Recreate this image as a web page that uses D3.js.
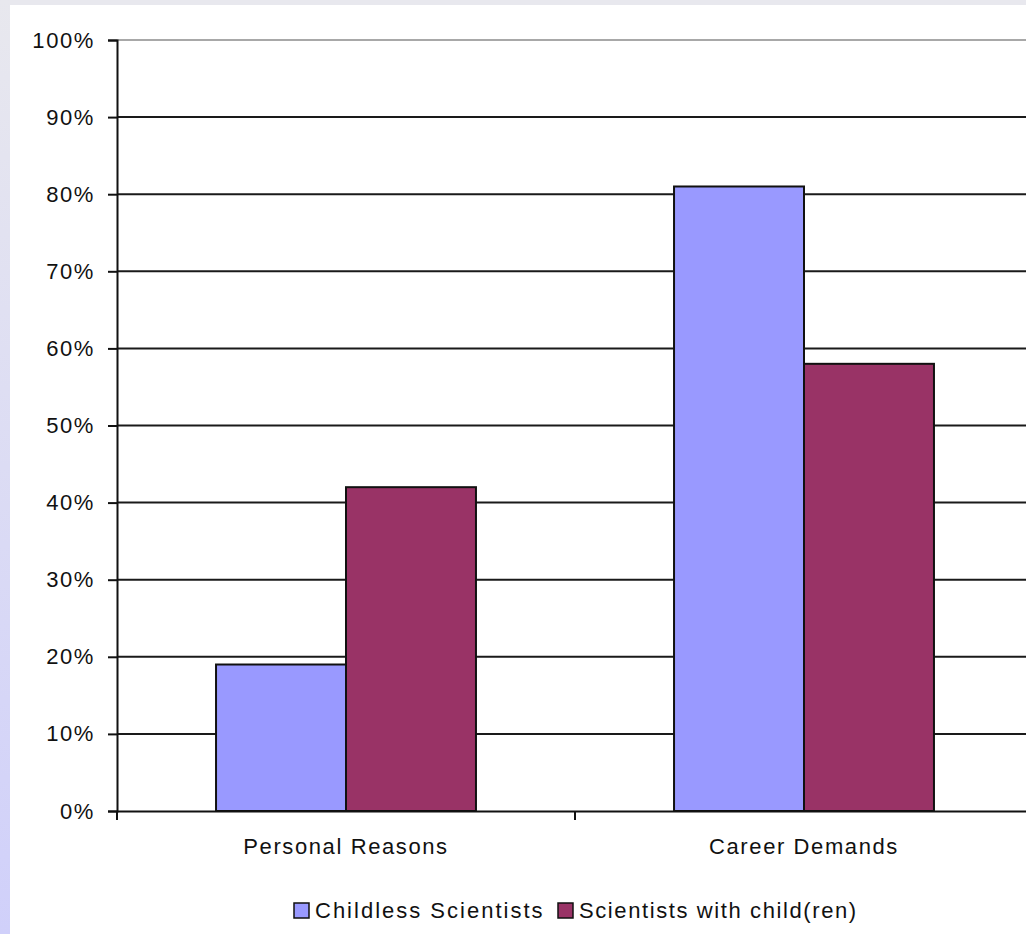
<!DOCTYPE html>
<html>
<head>
<meta charset="utf-8">
<script src="https://cdn.jsdelivr.net/npm/d3@7"></script>
<style>
  body { margin: 0; background: #fff; }
  text { font-family: Arial, "Liberation Sans", sans-serif; fill: #111; }
</style>
</head>
<body>
<div id="chart"></div>
<script>
// chart data
const categories = ['Personal Reasons', 'Career Demands'];
const series = ['Childless Scientists', 'Scientists with child(ren)'];
const childless = [0.19, 0.81];
const withChildren = [0.42, 0.58];
const yTicks = [0, 0.1, 0.2, 0.3, 0.4, 0.5, 0.6, 0.7, 0.8, 0.9, 1.0];
const colors = ['#9999ff', '#993366'];

const W = 1026, H = 934;
const plot = { left: 117, right: 1033, top: 40, bottom: 811 };

const svg = d3.select('#chart').append('svg')
    .attr('width', W)
    .attr('height', H);

// frame of the picture: light strips on top and left
const defs = svg.append('defs');
const grad = defs.append('linearGradient')
    .attr('id', 'side')
    .attr('x1', 0).attr('y1', 0).attr('x2', 0).attr('y2', 1);
grad.append('stop').attr('offset', '0%').attr('stop-color', '#e8e8ee');
grad.append('stop').attr('offset', '100%').attr('stop-color', '#d0d0fa');

svg.append('rect').attr('x', 0).attr('y', 0).attr('width', W).attr('height', 5).attr('fill', '#e8e8ee');
svg.append('rect').attr('x', 0).attr('y', 0).attr('width', 10).attr('height', H).attr('fill', 'url(#side)');

// scales
const x0 = d3.scaleBand()
    .domain(categories)
    .range([plot.left, plot.right]);

const x1 = d3.scaleBand()
    .domain(series)
    .range([0, x0.bandwidth()])
    .paddingOuter(0.762);

const y = d3.scaleLinear()
    .domain([0, 1])
    .range([plot.bottom, plot.top]);

// gridlines
svg.append('g')
   .selectAll('line')
   .data(yTicks.filter(d => d > 0))
   .join('line')
   .attr('x1', plot.left)
   .attr('x2', W)
   .attr('y1', d => y(d))
   .attr('y2', d => y(d))
   .attr('stroke', d => d === 1 ? '#a8a8a8' : '#1a1a1a')
   .attr('stroke-width', 2);

// bars
const rows = categories.map((c, i) => ({ cat: c, vals: [childless[i], withChildren[i]] }));

const groups = svg.append('g')
   .selectAll('g')
   .data(rows)
   .join('g')
   .attr('transform', d => `translate(${x0(d.cat)},0)`);

groups.selectAll('rect')
   .data(d => d.vals.map((v, j) => ({ s: series[j], v: v, j: j })))
   .join('rect')
   .attr('x', d => x1(d.s))
   .attr('y', d => y(d.v))
   .attr('width', x1.bandwidth())
   .attr('height', d => y(0) - y(d.v))
   .attr('fill', d => colors[d.j])
   .attr('stroke', '#111')
   .attr('stroke-width', 2);

// y axis
const yAxis = svg.append('g')
   .attr('transform', `translate(${plot.left},0)`)
   .call(d3.axisLeft(y)
           .tickValues(yTicks)
           .tickFormat(d3.format('.0%'))
           .tickSize(9)
           .tickPadding(13));
yAxis.selectAll('text')
   .style('font-size', '22px')
   .style('letter-spacing', '1.6px');

// x axis
const xAxis = svg.append('g')
   .attr('transform', `translate(0,${plot.bottom})`)
   .call(d3.axisBottom(x0).tickSize(0).tickPadding(27));
xAxis.selectAll('text')
   .style('font-size', '22px')
   .style('letter-spacing', '1.6px');

// category separator ticks
xAxis.selectAll('.sep')
   .data([plot.left, x0(categories[1]), plot.right])
   .join('line')
   .attr('class', 'sep')
   .attr('x1', d => d).attr('x2', d => d)
   .attr('y1', 0).attr('y2', 9)
   .attr('stroke', '#111')
   .attr('stroke-width', 2);

svg.selectAll('.domain').attr('stroke', '#111').attr('stroke-width', 2);
yAxis.selectAll('.tick line').attr('stroke', '#111').attr('stroke-width', 2);

// legend
const legend = svg.append('g').attr('transform', 'translate(294,903)');
const legendX = [0, 264];
series.forEach((s, i) => {
    const g = legend.append('g').attr('transform', `translate(${legendX[i]},0)`);
    g.append('rect')
     .attr('width', 15).attr('height', 15)
     .attr('fill', colors[i])
     .attr('stroke', '#111')
     .attr('stroke-width', 1.5);
    g.append('text')
     .attr('x', 21)
     .attr('y', 15)
     .style('font-size', '22px')
     .style('letter-spacing', i === 0 ? '2px' : '1.6px')
     .text(s);
});
</script>
</body>
</html>
